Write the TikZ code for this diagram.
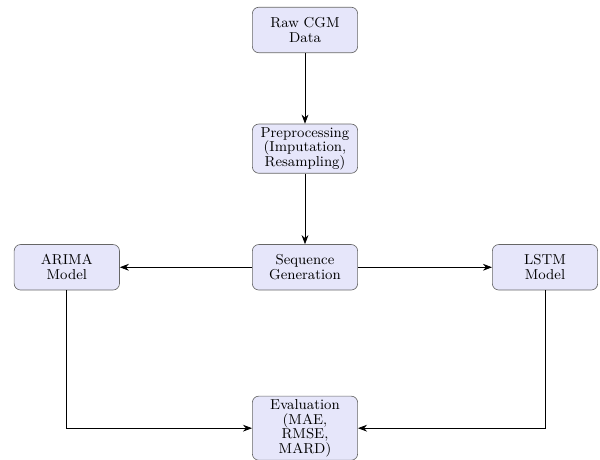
\documentclass[tikz,border=0pt]{standalone}
\usepackage{tikz}
\usetikzlibrary{arrows.meta,positioning}
\definecolor{boxfill}{RGB}{230, 230, 250}
\tikzset{
  procbox/.style={
    draw=black!60,
    fill=boxfill,
    rounded corners=4pt,
    align=center,
    text width=2cm,
    inner xsep=4.5pt,
    inner ysep=2pt,
    minimum height=1cm,
    font=\fontsize{9}{9.2}\selectfont
  },
  flow/.style={
    -{Stealth[length=2mm,width=1.5mm]},
    line width=0.5pt
  }
}
\begin{document}
\begin{tikzpicture}
\useasboundingbox (0,0) rectangle (13.2,10.1);
\node[procbox] (raw) at (6.71,9.44) {Raw CGM\\Data};
\node[procbox] (prep) at (6.71,6.83) {Preprocessing\\(Imputation, Resampling)};
\node[procbox] (seq) at (6.71,4.22) {Sequence Generation};
\node[procbox] (arima) at (1.47,4.22) {ARIMA\\Model};
\node[procbox] (lstm) at (11.99,4.22) {LSTM\\Model};
\node[procbox] (eval) at (6.71,0.68) {Evaluation (MAE, RMSE, MARD)};

\draw[flow] (raw.south) -- (prep.north);
\draw[flow] (prep.south) -- (seq.north);
\draw[flow] (seq.west) -- (arima.east);
\draw[flow] (seq.east) -- (lstm.west);
\draw[flow] (arima.south) |- (eval.west);
\draw[flow] (lstm.south) |- (eval.east);
\end{tikzpicture}
\end{document}
